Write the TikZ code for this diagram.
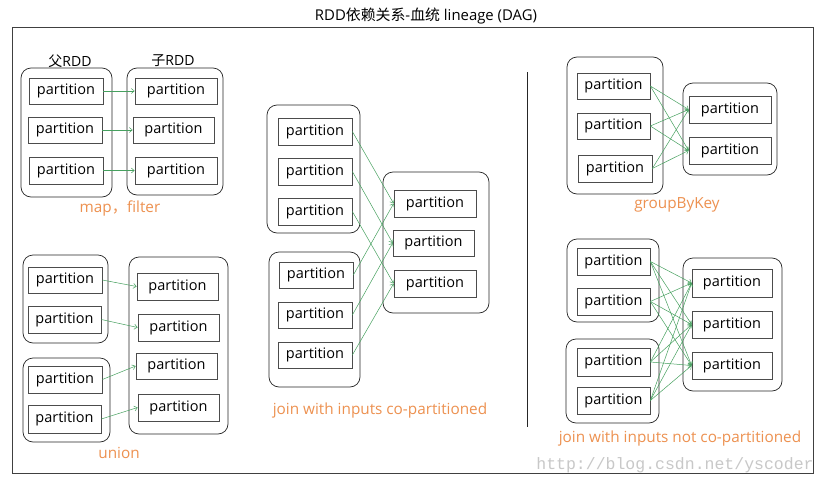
\documentclass[tikz,border=0pt]{standalone}
\usepackage{fontspec}
\setmainfont{Open Sans}
\newfontfamily\cjk{Noto Sans CJK SC}
\newfontfamily\wmfont{Liberation Mono}
\usetikzlibrary{arrows.meta}
\definecolor{lblorange}{RGB}{237,145,80}
\definecolor{arrgreen}{RGB}{70,160,95}
\definecolor{wmgray}{RGB}{200,200,200}
\newcommand{\pfont}{\fontsize{14.5}{16}\selectfont}
\newcommand{\lfont}{\fontsize{15.3}{17}\selectfont}
\newcommand{\tfont}{\fontsize{14.9}{17}\selectfont}
\newcommand{\hfont}{\fontsize{14}{16}\selectfont}
\begin{document}
\begin{tikzpicture}[x=1pt,y=-1pt,
  pbox/.style={draw=black!70, line width=0.7pt, minimum height=26pt, minimum width=#1, inner sep=0pt, font=\pfont},
  pbox/.default=74pt,
  cont/.style 2 args={draw=black!85, rounded corners=10pt, line width=0.7pt, minimum width=#1, minimum height=#2, inner sep=0pt},
  arr/.style={draw=arrgreen, line width=0.5pt, -{Straight Barb[length=3pt,width=5pt]}},
  lbl/.style={text=lblorange, font=\lfont, inner sep=0pt},
  hdr/.style={font=\hfont, inner sep=0pt}
]
\fill[white] (0,0) rectangle (828,485);
\useasboundingbox (0,0) rectangle (828,485);

% title and frame
\node[font=\tfont, inner sep=0pt] (title) at (426,16) {RDD{\cjk 依赖关系}-{\cjk 血统} lineage (DAG)};
\node[draw=black!75, line width=0.8pt, minimum width=801pt, minimum height=446pt, inner sep=0pt] (frame) at (412.5,250) {};

% ---------- map, filter ----------
\node[hdr] (hp) at (70,61) {{\cjk 父}RDD};
\node[hdr] (hc) at (173,61) {{\cjk 子}RDD};
\node[cont={91pt}{129pt}] (PA) at (66.5,132.5) {};
\node[cont={96pt}{127pt}] (CA) at (175,131.5) {};
\node[pbox] (a1) at (66,91) {partition};
\node[pbox] (a2) at (65,130) {partition};
\node[pbox,minimum height=27pt] (a3) at (66,170.5) {partition};
\node[pbox=82pt] (b1) at (176,91) {partition};
\node[pbox=81pt] (b2) at (173.5,130) {partition};
\node[pbox=82pt,minimum height=27pt] (b3) at (176,170.5) {partition};
\draw[arr] (a1.east) -- (b1.west);
\draw[arr] (a2.east) -- (b2.west);
\draw[arr] (a3.east) -- (b3.west);
\node[lbl] (lmap) at (120,208) {map{\cjk ，}filter};

% ---------- union ----------
\node[cont={85pt}{88pt}] (UA) at (65.5,299) {};
\node[cont={87pt}{84pt}] (UB) at (66.5,400) {};
\node[cont={99pt}{177pt}] (UC) at (178.5,345.5) {};
\node[pbox] (u1) at (65,280) {partition};
\node[pbox=73pt,minimum height=27pt] (u2) at (64.5,319.5) {partition};
\node[pbox,minimum height=27pt] (u3) at (65,379.5) {partition};
\node[pbox=73pt,minimum height=28pt] (u4) at (64.5,419) {partition};
\node[pbox=81pt,minimum height=27pt] (v1) at (177.5,286.5) {partition};
\node[pbox=81pt,minimum height=27pt] (v2) at (178.5,327.5) {partition};
\node[pbox=81pt] (v3) at (176.5,366) {partition};
\node[pbox=81pt,minimum height=27pt] (v4) at (178.5,407.5) {partition};
\draw[arr] (u1.east) -- (v1.west);
\draw[arr] (u2.east) -- (v2.west);
\draw[arr] (u3.east) -- (v3.west);
\draw[arr] (u4.east) -- (v4.west);
\node[lbl] (lunion) at (119,453) {union};

% ---------- join co-partitioned ----------
\node[cont={93pt}{128pt}] (JA) at (313.5,169) {};
\node[cont={91pt}{135pt}] (JB) at (314.5,319.5) {};
\node[cont={106pt}{141pt}] (JC) at (436,242.5) {};
\node[pbox,minimum height=27pt] (j1) at (315,131.5) {partition};
\node[pbox,minimum height=27pt] (j2) at (315,171.5) {partition};
\node[pbox,minimum height=27pt] (j3) at (315,211.5) {partition};
\node[pbox] (j4) at (316,275) {partition};
\node[pbox] (j5) at (315,315) {partition};
\node[pbox] (j6) at (315,355) {partition};
\node[pbox=82pt,minimum height=27pt] (k1) at (435,203.5) {partition};
\node[pbox=81pt] (k2) at (433.5,243) {partition};
\node[pbox=82pt,minimum height=27pt] (k3) at (435,283.5) {partition};
\draw[arr] (j1.east) -- (k1.west);
\draw[arr] (j2.east) -- (k2.west);
\draw[arr] (j3.east) -- (k3.west);
\draw[arr] (j4.east) -- (k1.west);
\draw[arr] (j5.east) -- (k2.west);
\draw[arr] (j6.east) -- (k3.west);
\node[lbl] (ljoin) at (380,411) {join with inputs co-partitioned};

% separator
\coordinate (s1) at (527,72);
\coordinate (s2) at (527,427);
\draw[black!85, line width=0.9pt] (s1) -- (s2);

% ---------- groupByKey ----------
\node[cont={96pt}{137pt}] (GA) at (615,125.5) {};
\node[cont={94pt}{92pt}] (GB) at (730,129) {};
\node[pbox=73pt] (g1) at (613.5,86) {partition};
\node[pbox=73pt] (g2) at (613.5,126) {partition};
\node[pbox,minimum height=27pt] (g3) at (615,168.5) {partition};
\node[pbox=82pt,minimum height=27pt] (h1) at (730,109.5) {partition};
\node[pbox=82pt,minimum height=27pt] (h2) at (730,150.5) {partition};
\foreach \s in {g1,g2,g3}{
  \foreach \t in {h1,h2}{
    \draw[arr] (\s.east) -- (\t.west);
  }
}
\node[lbl] (lgroup) at (677,205) {groupByKey};

% ---------- join not co-partitioned ----------
\node[cont={92pt}{83pt}] (NA) at (613,280.5) {};
\node[cont={93pt}{84pt}] (NB) at (612.5,381) {};
\node[cont={99pt}{133pt}] (NC) at (732.5,324.5) {};
\node[pbox=73pt,minimum height=27pt] (n1) at (613.5,261.5) {partition};
\node[pbox=73pt,minimum height=27pt] (n2) at (613.5,301.5) {partition};
\node[pbox=73pt,minimum height=28pt] (n3) at (613.5,362) {partition};
\node[pbox=73pt,minimum height=27pt] (n4) at (613.5,400.5) {partition};
\node[pbox=80pt,minimum height=28pt] (m1) at (732,283) {partition};
\node[pbox=80pt,minimum height=27pt] (m2) at (732,324.5) {partition};
\node[pbox=80pt,minimum height=27pt] (m3) at (732,365.5) {partition};
\foreach \s in {n1,n2,n3,n4}{
  \foreach \t in {m1,m2,m3}{
    \draw[arr] (\s.east) -- (\t.west);
  }
}
\node[lbl] (lnot) at (680,439) {join with inputs not co-partitioned};

% watermark
\node[font=\wmfont\fontsize{16.5}{18}\selectfont, text=wmgray, inner sep=0pt] (wm) at (675,465) {http://blog.csdn.net/yscoder};
\end{tikzpicture}
\end{document}
